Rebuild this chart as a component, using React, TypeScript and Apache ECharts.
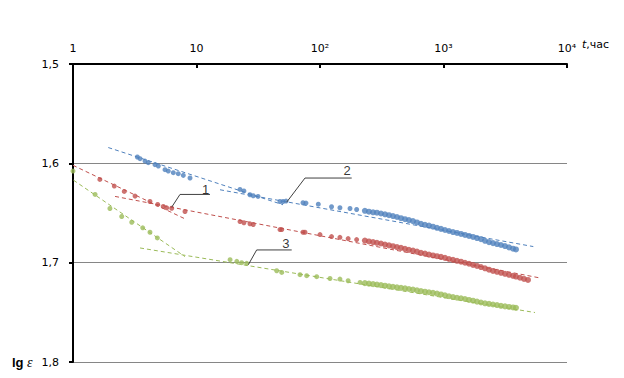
import React, { useEffect, useRef } from "react";
import * as echarts from "echarts";

// ---- data (t in hours, lg ε) ----
const xTickLabels: Record<number, string> = { 1: "1", 10: "10", 100: "10²", 1000: "10³", 10000: "10⁴" };
const yTicks = [1.5, 1.6, 1.7, 1.8];

const tDense = [231, 249, 269, 289, 312, 336, 362, 390, 420, 453, 488, 525, 566, 610, 657, 708, 763, 822, 886, 955, 1028, 1108, 1194, 1286, 1386, 1493, 1609, 1734, 1868, 2012, 2168, 2336, 2516, 2712, 2921, 3148, 3392, 3655, 3864];

const blueSparseT = [3.32, 3.49, 3.83, 4.07, 4.61, 4.91, 5.56, 5.91, 6.49, 7.12, 7.82, 8.86, 22.5, 24.2, 27.1, 28.8, 31.5, 47.4, 50.2, 53.1, 72.8, 77, 96.9, 124, 145, 175, 198];
const blueSparseY = [1.5936, 1.5953, 1.5977, 1.5993, 1.6013, 1.6027, 1.6064, 1.6078, 1.6094, 1.6104, 1.6121, 1.6148, 1.6263, 1.6278, 1.6316, 1.6326, 1.6333, 1.6384, 1.6384, 1.638, 1.6397, 1.64, 1.6411, 1.6437, 1.6447, 1.6455, 1.6465];
const blueDenseY = [1.6478, 1.6487, 1.6493, 1.6497, 1.6505, 1.6513, 1.6522, 1.6531, 1.654, 1.6552, 1.6562, 1.6571, 1.6582, 1.6595, 1.6608, 1.6619, 1.6627, 1.6638, 1.6649, 1.666, 1.6671, 1.6681, 1.6692, 1.6701, 1.6711, 1.6721, 1.6731, 1.6741, 1.6752, 1.6763, 1.678, 1.6793, 1.6803, 1.6813, 1.6822, 1.6833, 1.6846, 1.6859, 1.6867];

const redSparseT = [1.65, 2.16, 2.6, 3.18, 4.2, 4.85, 5.38, 5.74, 6.3, 8.07, 22.5, 24.2, 27.1, 28.8, 47.4, 49.0, 72.8, 75.6, 100, 124, 145, 169, 198];
const redSparseY = [1.6162, 1.6229, 1.6283, 1.633, 1.6384, 1.6414, 1.6434, 1.6448, 1.6452, 1.6485, 1.6586, 1.6598, 1.6609, 1.6616, 1.6667, 1.6667, 1.6694, 1.6694, 1.6717, 1.6737, 1.6745, 1.6758, 1.6768];
const redDenseY = [1.6778, 1.6786, 1.6793, 1.68, 1.6807, 1.6818, 1.6826, 1.6834, 1.6843, 1.6851, 1.6861, 1.6871, 1.6879, 1.6889, 1.6901, 1.6909, 1.6919, 1.6927, 1.6935, 1.6942, 1.6952, 1.6963, 1.6972, 1.6981, 1.699, 1.7001, 1.7011, 1.7023, 1.7033, 1.7044, 1.7057, 1.7071, 1.7083, 1.7092, 1.7102, 1.7112, 1.7122, 1.7132, 1.714];
const redTailT = [4163, 4486, 4833];
const redTailY = [1.7152, 1.7164, 1.7174];

const greenSparseT = [1.0, 1.51, 1.99, 2.48, 2.99, 3.67, 4.2, 4.82, 18.7, 21.2, 23.2, 25.5, 44.6, 49.0, 68.9, 78.0, 94.0, 120.5, 145, 169, 211];
const greenSparseY = [1.6078, 1.6313, 1.6455, 1.6535, 1.6593, 1.6649, 1.6694, 1.6751, 1.697, 1.6987, 1.7, 1.7007, 1.7081, 1.7098, 1.7121, 1.7131, 1.7141, 1.7159, 1.7165, 1.7182, 1.7199];
const greenDenseY = [1.7206, 1.7211, 1.7216, 1.722, 1.7226, 1.7232, 1.7238, 1.7243, 1.7248, 1.7254, 1.7259, 1.7265, 1.7271, 1.7278, 1.7286, 1.7292, 1.7298, 1.7304, 1.7311, 1.732, 1.7329, 1.7338, 1.7346, 1.7353, 1.7358, 1.7366, 1.7375, 1.7383, 1.7392, 1.7401, 1.7409, 1.7415, 1.7421, 1.7427, 1.7434, 1.744, 1.7446, 1.7451, 1.7455];

const redTrend1 = [[1.0, 1.602], [8.07, 1.6559]];
const redTrend2 = [[2.19, 1.6333], [5935, 1.7152]];
const blueTrend1 = [[1.93, 1.5841], [50.2, 1.6417]];
const blueTrend2 = [[15.5, 1.6266], [5335, 1.6838]];
const greenTrend1 = [[0.814, 1.609], [8.07, 1.6939]];
const greenTrend2 = [[3.49, 1.6852], [5508, 1.7502]];

const callout1 = [[6.3, 1.6441], [7.35, 1.6313], [12.86, 1.6313]];
const callout2 = [[53.7, 1.6391], [75.6, 1.6148], [180.6, 1.6148]];
const callout3 = [[26.3, 1.702], [30.7, 1.6872], [59.0, 1.6872]];
const calloutLabels = [
  { name: "1", value: [11.87, 1.6263] },
  { name: "2", value: [166, 1.6076] },
  { name: "3", value: [52.8, 1.6806] },
];

const BLUE = "#4F81BD";
const RED = "#C0504D";
const GREEN = "#9BBB59";

const zip = (t: number[], y: number[]) => t.map((v, i) => [v, y[i]]);

export default function App() {
  const ref = useRef<HTMLDivElement>(null);
  useEffect(() => {
    if (!ref.current) return;
    const chart = echarts.init(ref.current, null, { renderer: "svg" });
    const font = "DejaVu Sans";
    const scatter = (name: string, color: string, data: number[][]) => ({
      name,
      type: "scatter",
      data,
      symbol: "circle",
      symbolSize: (v: number[]) => (v[0] >= tDense[0] ? 6 : 5),
      itemStyle: { color },
      z: 5,
    });
    const trend = (color: string, data: number[][]) => ({
      type: "line",
      data,
      symbol: "none",
      clip: false,
      lineStyle: { color, width: 1, type: [4, 3] },
      z: 3,
    });
    const callout = (data: number[][]) => ({
      type: "line",
      data,
      symbol: "none",
      lineStyle: { color: "#404040", width: 1 },
      z: 6,
    });
    chart.setOption({
      animation: false,
      grid: { left: 73, right: 57, top: 64, bottom: 16 },
      xAxis: {
        type: "log",
        logBase: 10,
        position: "top",
        min: 1,
        max: 10000,
        axisLine: { show: true, lineStyle: { color: "#000", width: 2 } },
        axisTick: { show: true, inside: true, length: 4, lineStyle: { color: "#000", width: 2 } },
        minorTick: { show: false },
        splitLine: { show: false },
        axisLabel: {
          margin: 10,
          fontFamily: font,
          fontSize: 11,
          color: "#000",
          formatter: (v: number) => xTickLabels[Math.round(v)] ?? "",
        },
      },
      yAxis: {
        type: "value",
        inverse: true,
        min: yTicks[0],
        max: yTicks[yTicks.length - 1],
        interval: 0.1,
        axisLine: { show: true, lineStyle: { color: "#000", width: 2 } },
        axisTick: { show: true, length: 4, lineStyle: { color: "#000", width: 2 } },
        splitLine: { show: true, lineStyle: { color: "#868686", width: 1 } },
        axisLabel: {
          margin: 14,
          fontFamily: font,
          fontSize: 11,
          color: "#000",
          formatter: (v: number) => v.toFixed(1).replace(".", ","),
        },
      },
      series: [
        trend(BLUE, blueTrend1),
        trend(BLUE, blueTrend2),
        trend(RED, redTrend1),
        trend(RED, redTrend2),
        trend(GREEN, greenTrend1),
        trend(GREEN, greenTrend2),
        scatter("2", BLUE, [...zip(blueSparseT, blueSparseY), ...zip(tDense, blueDenseY)]),
        scatter("1", RED, [...zip(redSparseT, redSparseY), ...zip(tDense, redDenseY), ...zip(redTailT, redTailY)]),
        scatter("3", GREEN, [...zip(greenSparseT, greenSparseY), ...zip(tDense, greenDenseY)]),
        callout(callout1),
        callout(callout2),
        callout(callout3),
        {
          type: "scatter",
          data: calloutLabels,
          symbolSize: 1,
          itemStyle: { color: "rgba(0,0,0,0)" },
          z: 7,
          label: {
            show: true,
            position: "inside",
            formatter: (p: any) => p.name,
            fontFamily: "Liberation Sans",
            fontSize: 13,
            color: "#000",
          },
        },
      ],
      graphic: [
        {
          type: "text",
          left: 12,
          top: 355,
          style: {
            text: "{b|lg} {i|ε}",
            rich: {
              b: { fontFamily: "Liberation Sans", fontWeight: "bold", fontSize: 13, fill: "#000" },
              i: { fontFamily: "Liberation Serif", fontStyle: "italic", fontSize: 14, fill: "#000" },
            },
          },
        },
        {
          type: "text",
          left: 582,
          top: 39,
          style: {
            text: "{i|t},час",
            fontFamily: font,
            fontSize: 11,
            fill: "#000",
            rich: {
              i: { fontFamily: font, fontStyle: "italic", fontSize: 11, fill: "#000" },
            },
          },
        },
      ],
    });
    return () => chart.dispose();
  }, []);
  return (
    <div
      ref={ref}
      style={{ position: "fixed", left: 0, top: 0, width: 624, height: 378, background: "#fff" }}
    />
  );
}
